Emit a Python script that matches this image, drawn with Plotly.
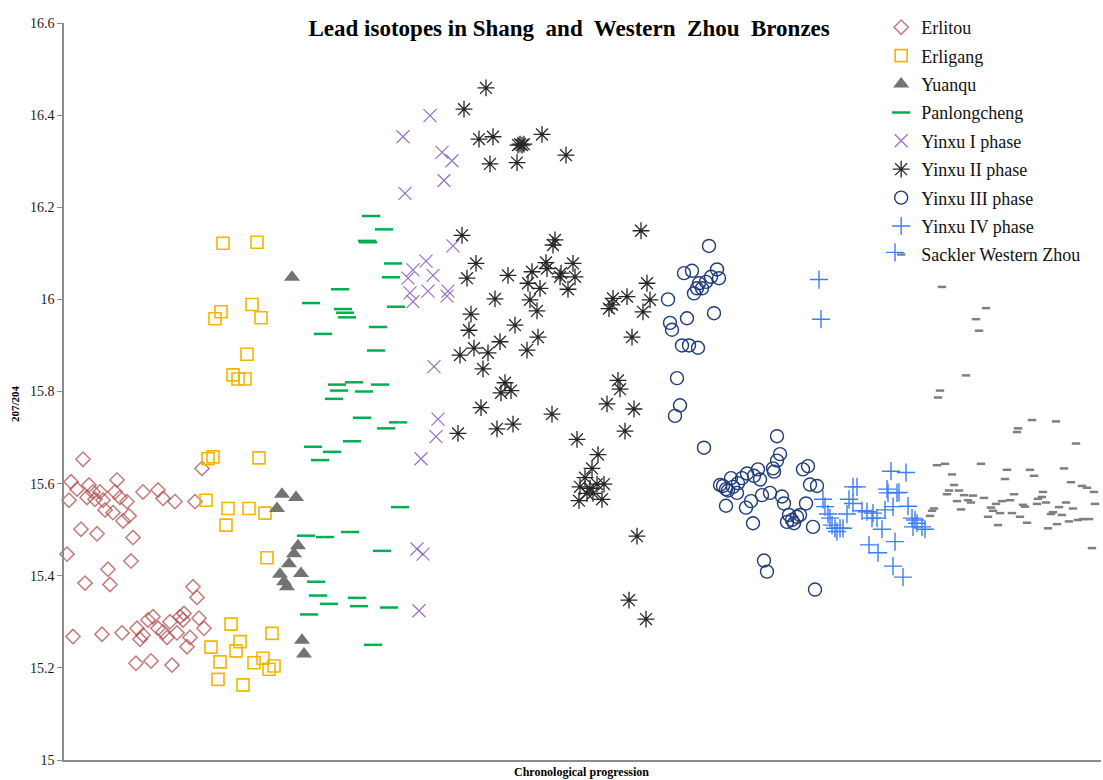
import plotly.graph_objects as go

# ---- data: x = chronological position (arbitrary units), y = 207Pb/204Pb ----
erlitou_x = [19, 7, 13, 5, 25, 29, 23, 36, 31, 39, 53, 51, 56, 63, 41, 49, 59, 65, 79, 94, 99, 111, 131, 138,
             17, 33, 69, 3, 67, 44, 21, 46, 129, 133, 9, 38, 58, 73, 79, 76, 84, 89, 94, 99, 103, 106, 113, 116,
             120, 119, 126, 123, 135, 140, 72, 87, 108]
erlitou_y = [15.653, 15.604, 15.588, 15.564, 15.597, 15.582, 15.570, 15.582, 15.566, 15.564, 15.608, 15.582,
             15.570, 15.561, 15.543, 15.537, 15.519, 15.530, 15.582, 15.586, 15.568, 15.561, 15.561, 15.633,
             15.501, 15.491, 15.483, 15.447, 15.432, 15.414, 15.384, 15.381, 15.376, 15.353, 15.268, 15.273,
             15.276, 15.286, 15.271, 15.262, 15.304, 15.311, 15.286, 15.278, 15.266, 15.300, 15.276, 15.311,
             15.318, 15.304, 15.266, 15.246, 15.308, 15.286, 15.210, 15.215, 15.206]

erligang_x = [159, 193, 188, 157, 151, 197, 183, 169, 174, 181, 144, 149, 195, 142, 164, 185, 201, 162, 203,
              167, 208, 147, 176, 172, 156, 190, 199, 205, 210, 154, 179]
erligang_y = [16.122, 16.124, 15.989, 15.973, 15.958, 15.960, 15.881, 15.836, 15.827, 15.827, 15.654, 15.658,
              15.656, 15.564, 15.546, 15.546, 15.536, 15.510, 15.439, 15.295, 15.275, 15.245, 15.257, 15.237,
              15.213, 15.211, 15.221, 15.197, 15.204, 15.175, 15.163]

yuanqu_x = [228, 218, 232, 213, 234, 230, 225, 216, 237, 220, 223, 238, 240]
yuanqu_y = [16.048, 15.577, 15.570, 15.546, 15.465, 15.448, 15.426, 15.403, 15.405, 15.387, 15.376, 15.260,
            15.230]

panlong_x = [307, 320, 303, 304, 329, 327, 276, 247, 279, 281, 283, 332, 259, 314, 312, 273, 290, 316, 275,
             300, 270, 298, 334, 322, 288, 249, 268, 256, 336, 242, 261, 286, 318, 252, 254, 265, 293, 295,
             245, 325, 309]
panlong_y = [16.181, 16.152, 16.127, 16.124, 16.078, 16.048, 16.022, 15.992, 15.979, 15.971, 15.961, 15.984,
             15.925, 15.940, 15.889, 15.815, 15.820, 15.815, 15.802, 15.800, 15.784, 15.743, 15.733, 15.720,
             15.692, 15.680, 15.669, 15.651, 15.549, 15.487, 15.484, 15.495, 15.454, 15.387, 15.357, 15.339,
             15.352, 15.334, 15.316, 15.331, 15.250]

yinxu1_x = [366, 339, 378, 388, 380, 341, 389, 362, 349, 369, 344, 346, 364, 384, 383, 349, 370, 374, 372,
            357, 353, 359, 355]
yinxu1_y = [16.399, 16.353, 16.319, 16.301, 16.258, 16.230, 16.116, 16.083, 16.064, 16.052, 16.046, 16.014,
            16.018, 16.018, 16.007, 15.995, 15.854, 15.740, 15.702, 15.654, 15.458, 15.447, 15.324]

yinxu2_x = [422, 400, 415, 429, 454, 456, 458, 460, 478, 426, 453, 502, 398, 491, 489, 577, 412, 403, 444,
            468, 482, 483, 497, 496, 509, 511, 464, 476, 504, 431, 466, 473, 407, 583, 549, 545, 563, 548,
            586, 579, 451, 405, 474, 568, 436, 410, 396, 424, 463, 419, 441, 437, 447, 554, 556, 417, 488,
            543, 570, 433, 449, 394, 561, 513, 534, 528, 521, 516, 526, 533, 540, 515, 538, 529, 523, 573,
            565, 582, 558]
yinxu2_y = [16.459, 16.413, 16.348, 16.353, 16.335, 16.337, 16.335, 16.337, 16.358, 16.294, 16.297, 16.313,
            16.139, 16.129, 16.118, 16.149, 16.078, 16.046, 16.052, 16.060, 16.080, 16.067, 16.057, 16.049,
            16.078, 16.049, 16.035, 16.024, 16.022, 16.001, 15.999, 15.975, 15.968, 16.035, 16.002, 15.980,
            16.006, 15.988, 15.999, 15.973, 15.944, 15.933, 15.918, 15.918, 15.908, 15.894, 15.879, 15.884,
            15.890, 15.849, 15.819, 15.797, 15.802, 15.824, 15.805, 15.765, 15.751, 15.773, 15.762, 15.719,
            15.729, 15.709, 15.714, 15.696, 15.663, 15.633, 15.613, 15.593, 15.590, 15.599, 15.599, 15.563,
            15.566, 15.579, 15.579, 15.486, 15.347, 15.306, 14.997]

yinxu3_x = [645, 620, 628, 653, 647, 655, 642, 635, 633, 638, 630, 604, 623, 650, 606, 608, 618, 625, 634,
            613, 616, 611, 640, 713, 716, 713, 709, 710, 694, 690, 696, 683, 678, 674, 667, 656, 659, 662,
            669, 673, 664, 739, 744, 746, 753, 706, 698, 718, 720, 742, 687, 682, 662, 689, 725, 728, 733,
            736, 723, 730, 749, 700, 703, 751]
yinxu3_y = [16.116, 16.057, 16.062, 16.065, 16.049, 16.046, 16.038, 16.035, 16.024, 16.024, 16.013, 16.000,
            15.959, 15.970, 15.949, 15.934, 15.900, 15.900, 15.895, 15.829, 15.770, 15.747, 15.678, 15.703,
            15.664, 15.650, 15.633, 15.626, 15.631, 15.617, 15.609, 15.622, 15.612, 15.601, 15.612, 15.597,
            15.595, 15.588, 15.593, 15.580, 15.585, 15.631, 15.638, 15.598, 15.595, 15.580, 15.575, 15.572,
            15.557, 15.557, 15.562, 15.548, 15.552, 15.514, 15.532, 15.521, 15.528, 15.532, 15.517, 15.514,
            15.506, 15.433, 15.409, 15.370]

yinxu4_x = [831, 755, 757, 827, 842, 789, 793, 823, 824, 833, 835, 759, 785, 789, 761, 798, 803, 809, 783,
            821, 829, 844, 764, 766, 808, 813, 768, 771, 776, 779, 773, 818, 848, 851, 853, 858, 861, 849,
            831, 805, 814, 829, 839]
yinxu4_y = [16.102, 16.043, 15.957, 15.627, 15.624, 15.593, 15.593, 15.588, 15.580, 15.580, 15.581, 15.566,
            15.566, 15.557, 15.550, 15.541, 15.539, 15.536, 15.534, 15.543, 15.550, 15.551, 15.534, 15.525,
            15.525, 15.525, 15.510, 15.503, 15.503, 15.503, 15.496, 15.501, 15.525, 15.521, 15.514, 15.506,
            15.501, 15.506, 15.474, 15.467, 15.450, 15.421, 15.397]

sackler_x = [878, 922, 912, 915, 902, 876, 874, 968, 992, 954, 953, 1012, 873, 881, 917, 943, 966, 1000, 941,
             970, 888, 890, 1007, 885, 895, 883, 900, 909, 950, 979, 1018, 1023, 1030, 978, 974, 920, 893,
             904, 907, 938, 946, 932, 973, 982, 1002, 1031, 959, 961, 927, 897, 995, 1009, 870, 868, 929,
             936, 948, 989, 987, 998, 866, 924, 956, 963, 993, 1005, 1014, 1019, 1025, 934, 984, 1028]
sackler_y = [16.027, 15.981, 15.957, 15.932, 15.835, 15.802, 15.787, 15.738, 15.735, 15.720, 15.712, 15.687,
             15.640, 15.643, 15.643, 15.630, 15.630, 15.633, 15.610, 15.617, 15.620, 15.597, 15.603, 15.585,
             15.585, 15.577, 15.575, 15.574, 15.577, 15.582, 15.595, 15.591, 15.582, 15.571, 15.567, 15.569,
             15.562, 15.564, 15.559, 15.562, 15.564, 15.556, 15.556, 15.559, 15.559, 15.556, 15.554, 15.550,
             15.548, 15.544, 15.549, 15.546, 15.546, 15.541, 15.541, 15.536, 15.536, 15.538, 15.534, 15.532,
             15.530, 15.528, 15.528, 15.515, 15.512, 15.518, 15.521, 15.523, 15.523, 15.510, 15.503, 15.460]

y_ticks = [15, 15.2, 15.4, 15.6, 15.8, 16, 16.2, 16.4, 16.6]
y_tick_labels = ["15", "15.2", "15.4", "15.6", "15.8", "16", "16.2", "16.4", "16.6"]

SERIF = "Liberation Serif, Times New Roman, serif"

series = [
    ("Erlitou", erlitou_x, erlitou_y, dict(symbol="diamond-open", size=11, color="rgba(176,80,77,0.75)",
                                           line=dict(width=1.5, color="rgba(176,80,77,0.75)"))),
    ("Erligang", erligang_x, erligang_y, dict(symbol="square-open", size=12, color="#F2B600",
                                              line=dict(width=1.6, color="#F2B600"))),
    ("Yuanqu", yuanqu_x, yuanqu_y, dict(symbol="triangle-up", size=14, color="#737373",
                                        line=dict(width=0))),
    ("Panlongcheng", panlong_x, panlong_y, dict(symbol="line-ew-open", size=13, color="#00B050",
                                                line=dict(width=2.5, color="#00B050"))),
    ("Yinxu I phase", yinxu1_x, yinxu1_y, dict(symbol="x-thin-open", size=13, color="#9470C6",
                                               line=dict(width=1.2, color="#9470C6"))),
    ("Yinxu II phase", yinxu2_x, yinxu2_y, dict(symbol="asterisk-open", size=14, color="#262626",
                                                line=dict(width=1.3, color="#262626"))),
    ("Yinxu III phase", yinxu3_x, yinxu3_y, dict(symbol="circle-open", size=13, color="#1F3C7A",
                                                 line=dict(width=1.4, color="#1F3C7A"))),
    ("Yinxu IV phase", yinxu4_x, yinxu4_y, dict(symbol="cross-thin-open", size=13, color="#3D7DF5",
                                                line=dict(width=1.4, color="#3D7DF5"))),
    ("Sackler Western Zhou", sackler_x, sackler_y, dict(symbol="line-ew-open", size=6, color="#7F7F7F",
                                                        line=dict(width=2.5, color="#7F7F7F"))),
]

fig = go.Figure()
for i, (name, xs, ys, mk) in enumerate(series):
    fig.add_trace(go.Scatter(x=xs, y=ys, mode="markers", name=name, marker=mk,
                             legendgroup="g%d" % i, cliponaxis=False))

fig.update_layout(
    width=1103, height=780,
    margin=dict(l=64, r=2, t=23, b=20),
    paper_bgcolor="white", plot_bgcolor="white",
    font=dict(family=SERIF, color="#1a1a1a"),
    title=dict(text="<b>Lead isotopes in Shang  and  Western  Zhou  Bronzes</b>",
               font=dict(family=SERIF, size=23, color="#000000"),
               x=0.516, xanchor="center", y=1 - 28 / 780, yanchor="middle"),
    showlegend=True,
    legend=dict(x=0.788, xanchor="left", y=1.019, yanchor="top",
                font=dict(family=SERIF, size=18, color="#111111"),
                bgcolor="rgba(0,0,0,0)", tracegroupgap=2, itemwidth=30),
    xaxis=dict(range=[0, 1037], showticklabels=False, ticks="", showgrid=False, zeroline=False,
               showline=True, linecolor="#8c8c8c", linewidth=1.5),
    yaxis=dict(range=[15, 16.6], tickmode="array", tickvals=y_ticks, ticktext=y_tick_labels,
               showgrid=False, zeroline=False, showline=True, linecolor="#8c8c8c", linewidth=1.5,
               ticks="outside", ticklen=5, tickcolor="#8c8c8c",
               tickfont=dict(family=SERIF, size=14, color="#1a1a1a")),
    annotations=[
        dict(text="<b>Chronological progression</b>", xref="paper", yref="paper", x=0.4986, y=-0.0163,
             xanchor="center", yanchor="middle", showarrow=False,
             font=dict(family=SERIF, size=12, color="#000000")),
        dict(text="<b>207/204</b>", xref="paper", yref="paper", x=-0.0473, y=0.4844, textangle=-90,
             xanchor="center", yanchor="middle", showarrow=False,
             font=dict(family=SERIF, size=11, color="#000000")),
    ],
)

fig.write_html("out.html", config={"displayModeBar": False},
               post_script="document.body.style.margin='0';document.body.style.overflow='hidden';")
